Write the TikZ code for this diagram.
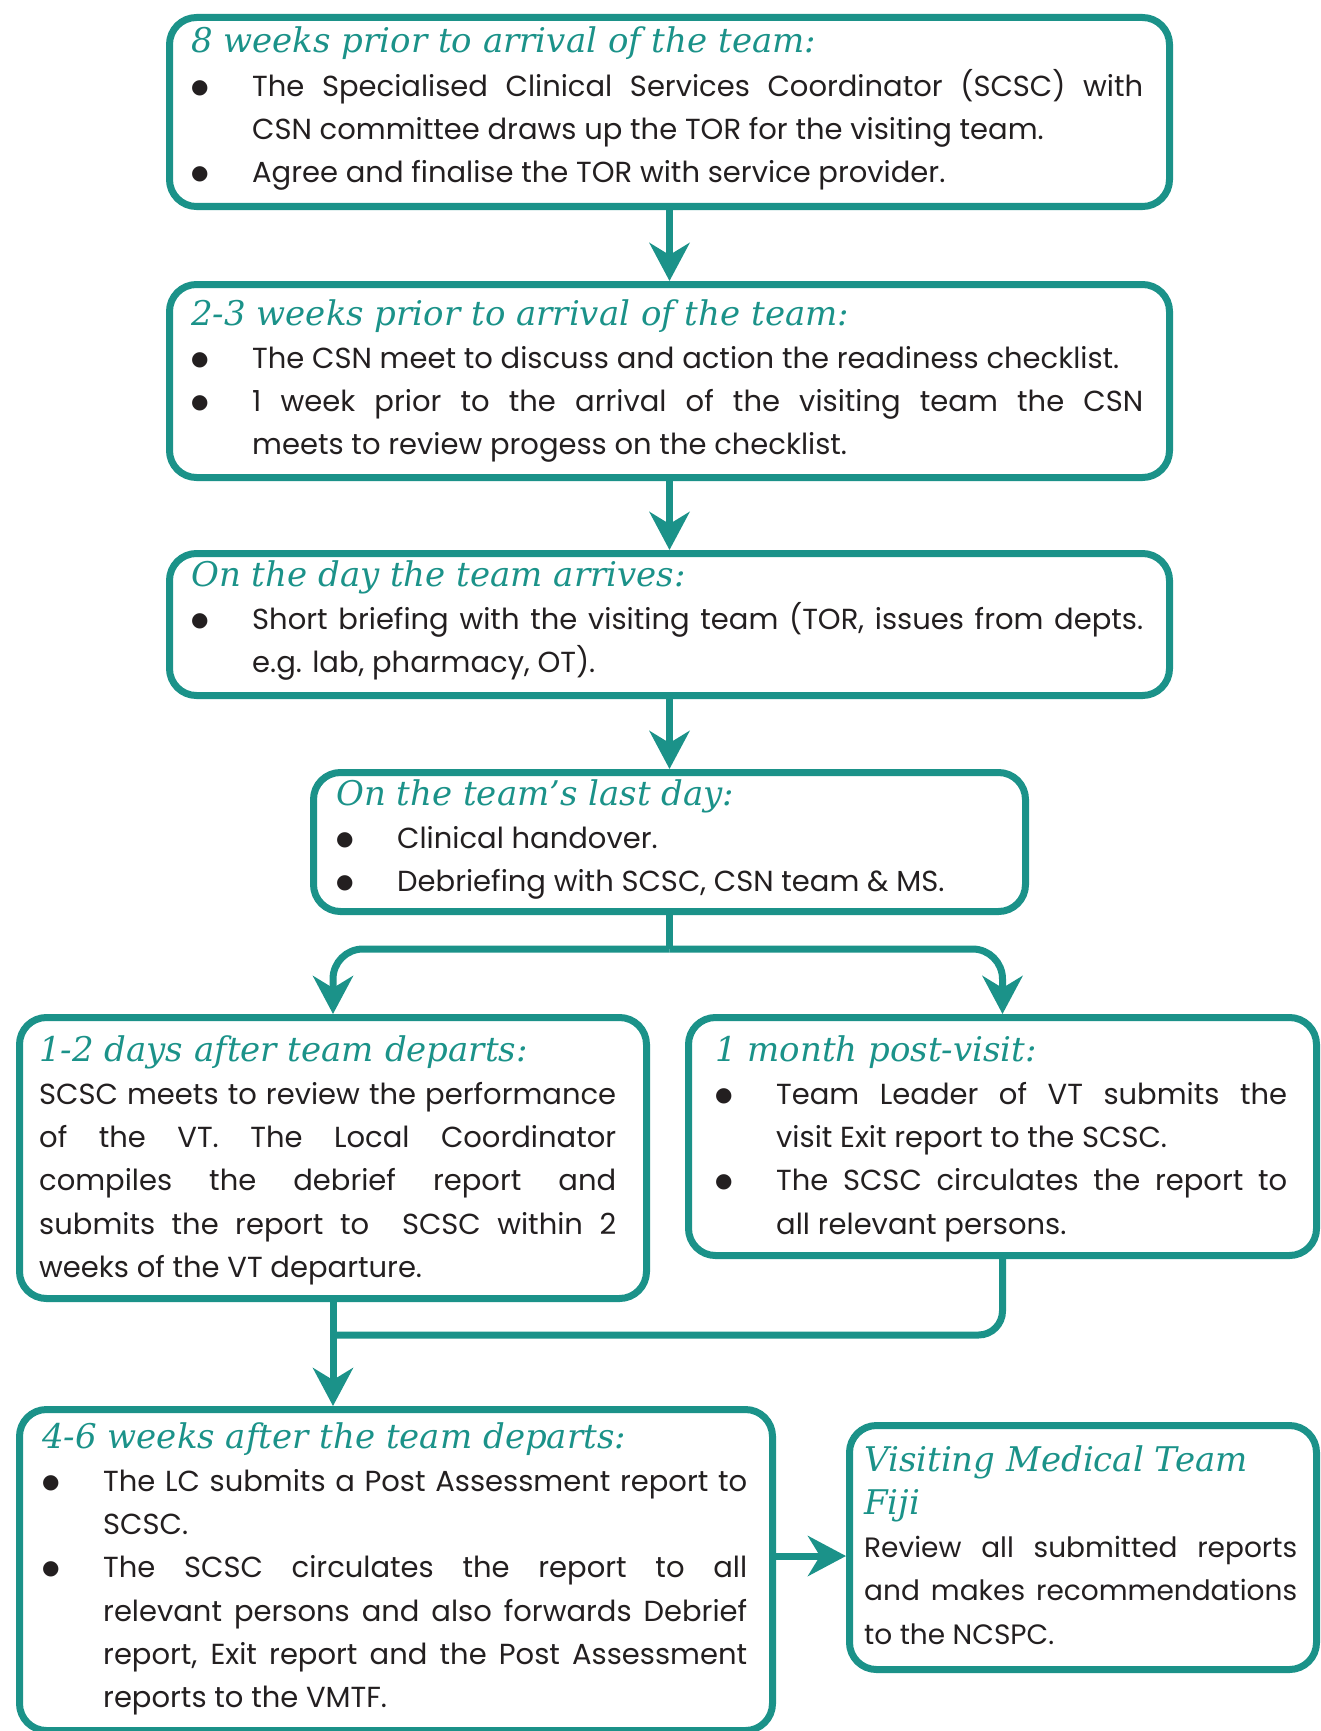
\documentclass[tikz,border=0pt]{standalone}
\usepackage{fontspec}
\usetikzlibrary{arrows.meta}

\newfontfamily\bodyfont{Poppins}
\newfontfamily\hdfont{DejaVu Serif}
\newfontfamily\symfont{DejaVu Sans}
\definecolor{vmt}{RGB}{27,146,137}
\definecolor{ink}{RGB}{35,31,32}

% heading line and bullet item
\newcommand{\hd}[1]{{\hdfont\itshape\color{vmt}\fontsize{34}{43.3}\selectfont #1\par}}
\newcommand{\bul}{\makebox[61pt][l]{\raisebox{3pt}{\symfont\fontsize{20}{0}\selectfont ●}}}
\newcommand{\itm}[1]{\par\hangindent=61pt\hangafter=1\noindent\bul#1\par}

\begin{document}
\begin{tikzpicture}[x=1pt,y=-1pt,
  frame/.style={draw=vmt, line width=7pt, rounded corners=27pt, anchor=north west, inner sep=0pt},
  txt/.style={anchor=base west, inner sep=0pt, align=justify, text=ink,
    font=\bodyfont\fontsize{29}{43.3}\selectfont,
    execute at begin node={\hyphenpenalty=10000\tolerance=9999}},
  link/.style={draw=vmt, line width=7pt},
  arr/.style={link, -{Stealth[length=38pt,width=40pt,inset=12pt]}}]
\useasboundingbox (0,0) rectangle (1320,1731);

% frames
\node (w8) at (166,14) [frame, minimum width=1000pt, minimum height=189pt] {};
\node (w23) at (166,281) [frame, minimum width=1000pt, minimum height=193pt] {};
\node (arrive) at (166,550) [frame, minimum width=1000pt, minimum height=142pt] {};
\node (lastday) at (310,769) [frame, minimum width=712pt, minimum height=139pt] {};
\node (d12) at (16,1014) [frame, minimum width=627pt, minimum height=281pt] {};
\node (m1) at (685,1014) [frame, minimum width=628pt, minimum height=238pt] {};
\node (w46) at (16,1406) [frame, minimum width=753pt, minimum height=321pt] {};
\node (vmtf) at (846,1422) [frame, minimum width=467pt, minimum height=244pt] {};

% texts
\node (t8) at (191,53) [txt, text width=952pt] {\hd{8 weeks prior to arrival of the team:}
  \itm{The Specialised Clinical Services Coordinator (SCSC) with\linebreak CSN committee draws up the TOR for the visiting team.}
  \itm{Agree and finalise the TOR with service provider.}};
\node (t23) at (191,325) [txt, text width=952pt] {\hd{2-3 weeks prior to arrival of the team:}
  \itm{The CSN meet to discuss and action the readiness checklist.}
  \itm{1 week prior to the arrival of the visiting team the CSN\linebreak meets to review progess on the checklist.}};
\node (tarrive) at (191,586) [txt, text width=952pt] {\hd{On the day the team arrives:}
  \itm{Short briefing with the visiting team (TOR, issues from depts.\linebreak e.g. lab, pharmacy, OT).}};
\node (tlast) at (336,805) [txt, text width=660pt] {\hd{On the team’s last day:}
  \itm{Clinical handover.}
  \itm{Debriefing with SCSC, CSN team \& MS.}};
\node (td12) at (39,1061) [txt, text width=577pt] {\hd{1-2 days after team departs:}
  \noindent SCSC meets to review the performance\linebreak of the VT. The Local Coordinator\linebreak
  compiles the debrief report and\linebreak submits the report to \ SCSC within 2\linebreak
  weeks of the VT departure.\par};
\node (tm1) at (715,1061) [txt, text width=572pt] {\hd{1 month post-visit:}
  \itm{Team Leader of VT submits the\linebreak visit Exit report to the SCSC.}
  \itm{The SCSC circulates the report to\linebreak all relevant persons.}};
\node (tw46) at (42,1448) [txt, text width=705pt] {\hd{4-6 weeks after the team departs:}
  \itm{The LC submits a Post Assessment report to\linebreak SCSC.}
  \itm{The SCSC circulates the report to all\linebreak relevant persons and also forwards Debrief\linebreak
    report, Exit report and the Post Assessment\linebreak reports to the VMTF.}};
\node (tvmtf) at (864,1471) [txt, text width=433pt, font=\bodyfont\fontsize{28}{43.3}\selectfont] {\hd{Visiting Medical Team\\Fiji}
  \noindent Review all submitted reports\linebreak and makes recommendations\linebreak to the NCSPC.\par};

% connectors
\draw[arr] (w8.south) -- (w23.north);
\draw[arr] (w23.south) -- (arrive.north);
\draw[arr] (arrive.south) -- (lastday.north);
\coordinate (fork) at (lastday.south |- 0,949);
\draw[link] (lastday.south) -- (fork);
\draw[arr, rounded corners=30pt] (fork) -| (d12.north);
\draw[arr, rounded corners=30pt] (fork) -| (m1.north);
\coordinate (join) at (d12.south |- 0,1335);
\draw[link, rounded corners=24pt] (m1.south) |- (join);
\draw[arr] (d12.south) -- (d12.south |- w46.north);
\draw[arr] (w46.east |- 0,1556) -- (vmtf.west |- 0,1556);

\end{tikzpicture}
\end{document}
